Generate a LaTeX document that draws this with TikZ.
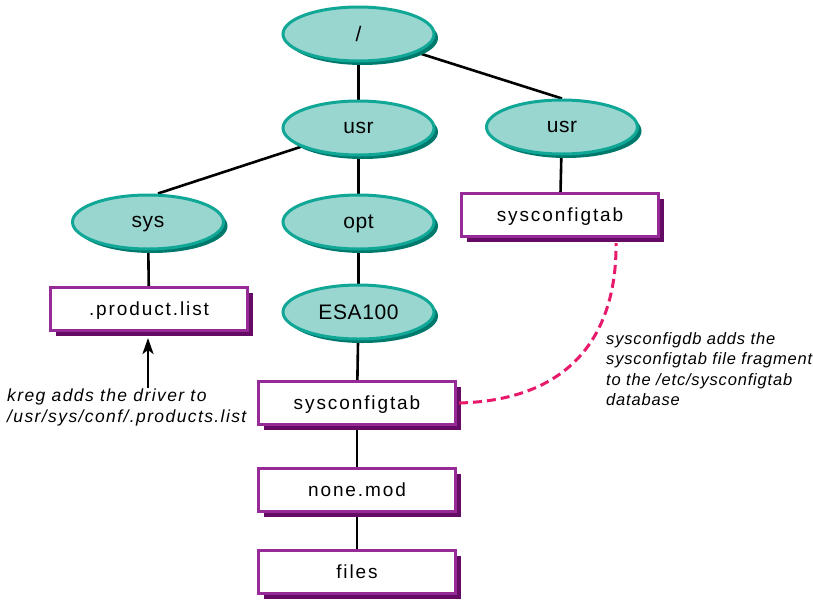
\documentclass[tikz,border=0pt]{standalone}
\usepackage{fontspec}
\setmainfont{Liberation Sans}
\newfontfamily\boxfont[LetterSpace=10]{Liberation Sans}
\newfontfamily\ellfont[LetterSpace=3]{Liberation Sans}
\newfontfamily\notefont[LetterSpace=5]{Liberation Sans}
\newfontfamily\kregfont[LetterSpace=8]{Liberation Sans}
\usetikzlibrary{shapes.geometric,shadows,backgrounds,arrows.meta}
\definecolor{ellfill}{HTML}{99D6D0}
\definecolor{elldraw}{HTML}{10A797}
\definecolor{ellshadow}{HTML}{00796D}
\definecolor{boxdraw}{HTML}{962A96}
\definecolor{boxshadow}{HTML}{650A65}
\definecolor{dashcol}{HTML}{E8186A}
\begin{document}
\begin{tikzpicture}[x=1pt,y=-1pt,
  dirnode/.style={ellipse, draw=elldraw, line width=3pt, fill=ellfill,
    minimum width=151pt, minimum height=54pt, inner sep=0pt, text depth=0pt,
    font=\ellfont\fontsize{21}{24}\selectfont,
    drop shadow={shadow xshift=4pt, shadow yshift=-4pt, fill=ellshadow, opacity=1, draw=none}},
  filenode/.style={rectangle, draw=boxdraw, line width=3pt, fill=white,
    minimum width=197pt, minimum height=43pt, inner sep=0pt, text depth=0pt,
    font=\boxfont\fontsize{19}{22}\selectfont,
    drop shadow={shadow xshift=5.5pt, shadow yshift=-5pt, fill=boxshadow, opacity=1, draw=none}},
  link/.style={line width=2.6pt, black},
  note/.style={inner sep=0pt, align=left, anchor=north west,
    font=\notefont\itshape\fontsize{16.5}{20.5}\selectfont}
]
\useasboundingbox (0,0) rectangle (813,600);

\node[dirnode] (slash) at (358.5,34) {/};
\node[dirnode] (usr)   at (358.5,128) {usr};
\node[dirnode] (usrR)  at (562,127) {usr};
\node[dirnode] (sys)   at (148,222) {sys};
\node[dirnode] (opt)   at (358.5,222) {opt};
\node[dirnode] (esa)   at (358.5,312) {ESA100};

\node[filenode] (plist) at (149,309) {.product.list};
\node[filenode] (sysR)  at (560,215) {sysconfigtab};
\node[filenode] (sysc)  at (357,403) {sysconfigtab};
\node[filenode] (none)  at (357,490) {none.mod};
\node[filenode] (files) at (357,572) {files};

\node[note, font=\kregfont\itshape\fontsize{17.5}{20.5}\selectfont] (kreg) at (7,389) {kreg adds the driver to\\/usr/sys/conf/.products.list};
\node[note] (dbnote) at (606,332) {sysconfigdb adds the\\sysconfigtab file fragment\\to the /etc/sysconfigtab\\database};

\coordinate (karrow) at (148,388);
\coordinate (dashend) at (616,243);

\begin{pgfonlayer}{background}
  \fill[white] (0,0) rectangle (813,600);
  \draw[link] (slash.center) -- (usr.center);
  \draw[link] (slash.center) -- (usrR.north);
  \draw[link] (usr.center) -- ([xshift=10pt]sys.north);
  \draw[link] (usr.center) -- (opt.center);
  \draw[link] (opt.center) -- (esa.center);
  \draw[link] (esa.center) -- (sysc.center);
  \draw[link] (sysc.center) -- (none.center);
  \draw[link] (none.center) -- (files.center);
  \draw[link] (sys.center) -- (plist.center);
  \draw[link] (usrR.center) -- (sysR.center);
\end{pgfonlayer}

\draw[line width=2.6pt, black, -{Stealth[length=16pt,width=11pt,inset=4pt]}] (karrow) -- ([yshift=-6pt]plist.south -| karrow);
\draw[dashcol, line width=3pt, dash pattern=on 9pt off 5pt]
  ([xshift=2pt]sysc.east) .. controls (575,400) and (617,330) .. (dashend);
\end{tikzpicture}
\end{document}
